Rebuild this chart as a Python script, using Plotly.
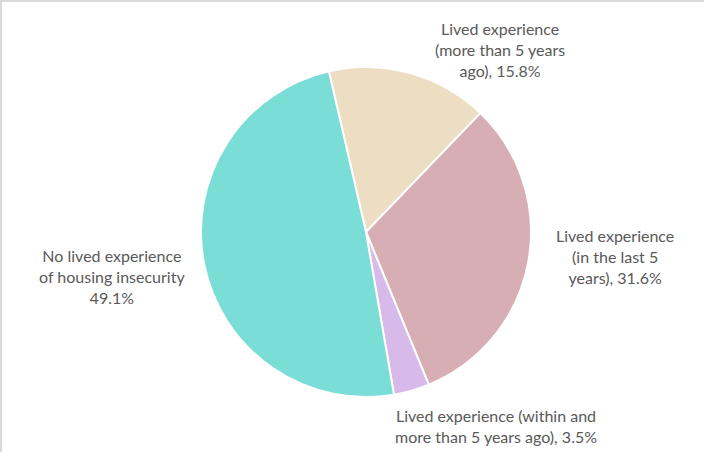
import plotly.graph_objects as go

# Share of respondents by lived experience of housing insecurity
categories = [
    "Lived experience (more than 5 years ago)",
    "Lived experience (in the last 5 years)",
    "Lived experience (within and more than 5 years ago)",
    "No lived experience of housing insecurity",
]
values = [15.8, 31.6, 3.5, 49.1]
colors = ["#EDDEC3", "#D6AEB4", "#D7B9EA", "#7BDED6"]

# Wrapped label text, one entry per slice (value appended below)
label_lines = [
    ["Lived experience", "(more than 5 years", "ago), {v}%"],
    ["Lived experience", "(in the last 5", "years), {v}%"],
    ["Lived experience (within and", "more than 5 years ago), {v}%"],
    ["No lived experience", "of housing insecurity", "{v}%"],
]
label_pos = [(500, 49), (615, 256), (496, 426), (112, 276)]  # pixel centres

W, H = 704, 452

fig = go.Figure(
    go.Pie(
        labels=categories,
        values=values,
        sort=False,
        direction="clockwise",
        rotation=-13,
        marker=dict(colors=colors, line=dict(color="white", width=2)),
        textinfo="none",
        hoverinfo="label+percent",
        domain=dict(x=[201 / W, 531 / W], y=[1 - 397 / H, 1 - 67 / H]),
        showlegend=False,
    )
)

for lines, v, (px, py) in zip(label_lines, values, label_pos):
    text = "<br>".join(lines).format(v=v)
    fig.add_annotation(
        x=px / W, y=1 - py / H, xref="paper", yref="paper",
        text=text, showarrow=False, align="center",
        xanchor="center", yanchor="middle",
        font=dict(family="Lato", size=16, color="#595959"),
    )

# Thin frame along the top and left edges
fig.add_shape(type="line", xref="paper", yref="paper", x0=0, x1=1, y0=1 - 1 / H, y1=1 - 1 / H,
              line=dict(color="#D9D9D9", width=2))
fig.add_shape(type="line", xref="paper", yref="paper", x0=1 / W, x1=1 / W, y0=0, y1=1,
              line=dict(color="#D9D9D9", width=2))

fig.update_layout(
    width=W, height=H,
    margin=dict(l=0, r=0, t=0, b=0),
    paper_bgcolor="white",
    plot_bgcolor="white",
)

fig.write_html("out.html")
